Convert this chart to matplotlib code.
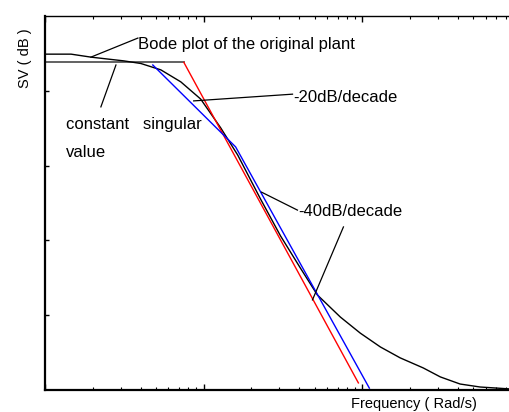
import numpy as np
import matplotlib
matplotlib.use("Agg")
import matplotlib.pyplot as plt
from matplotlib.ticker import LogLocator, NullFormatter, FixedLocator

plt.rcParams['font.family'] = ['Liberation Sans', 'DejaVu Sans']

# --- data (frequency in rad/s, singular value in dB) ---
bode_freq = [0.1, 0.146, 0.195, 0.314, 0.402, 0.537, 0.717, 0.957, 1.28, 1.64,
             2.28, 3.05, 4.07, 5.21, 7.27, 9.71, 13.0, 17.3, 24.2, 31.0, 41.3,
             55.2, 84.1]
bode_db = [-10.2, -10.2, -11.0, -12.0, -12.7, -14.4, -17.6, -22.2, -29.9, -37.2,
           -48.9, -58.8, -67.4, -74.6, -80.5, -84.8, -88.5, -91.4, -94.1, -96.5,
           -98.4, -99.2, -99.7]

const_freq = [0.1, 0.75]
const_db = [-12.4, -12.4]

red_freq = [0.75, 9.44]
red_db = [-12.4, -98.1]

blue_freq = [0.478, 1.59, 11.07]
blue_db = [-13.1, -35.0, -99.5]

x_limits = [0.1, 84.0]
y_limits = [-100, 0]
y_ticks = [-80, -60, -40, -20]

fig = plt.figure(figsize=(5.09, 4.12), dpi=100)
ax = fig.add_axes([45/509, 22/412, 464/509, 374/412])

ax.plot(const_freq, const_db, color='#555555', lw=1.3)
ax.plot(bode_freq, bode_db, color='black', lw=1.0)
ax.plot(red_freq, red_db, color='red', lw=1.0)
ax.plot(blue_freq, blue_db, color='blue', lw=1.0)

ax.set_xscale('log')
ax.set_xlim(*x_limits)
ax.set_ylim(*y_limits)
ax.yaxis.set_major_locator(FixedLocator(y_ticks))
ax.xaxis.set_major_locator(LogLocator(base=10))
ax.xaxis.set_minor_locator(LogLocator(base=10, subs=np.arange(2, 10)))
ax.xaxis.set_major_formatter(NullFormatter())
ax.xaxis.set_minor_formatter(NullFormatter())
ax.yaxis.set_major_formatter(NullFormatter())
ax.tick_params(axis='x', which='major', direction='in', length=4, width=1.0, top=True, bottom=True)
ax.tick_params(axis='x', which='minor', direction='in', length=2.2, width=0.8, top=True, bottom=True)
ax.tick_params(axis='y', which='major', direction='in', length=3, width=1.0, left=True, right=False)
ax.spines['right'].set_visible(False)
ax.spines['left'].set_linewidth(1.6)
ax.spines['bottom'].set_linewidth(1.6)
ax.spines['top'].set_linewidth(1.0)

fs = 12
# Bode annotation
ax.plot([0.385, 0.1947], [-5.9, -11.0], color='black', lw=0.9)
ax.text(0.385, -7.5, 'Bode plot of the original plant', fontsize=fs, ha='left', va='center')
# constant singular value
ax.plot([0.280, 0.225], [-13.1, -24.3], color='black', lw=0.9)
ax.text(0.1355, -28.9, 'constant   singular', fontsize=fs, ha='left', va='center')
ax.text(0.1355, -36.6, 'value', fontsize=fs, ha='left', va='center')
# -20 dB/decade
ax.plot([0.865, 3.63], [-22.7, -20.9], color='black', lw=0.9)
ax.text(3.68, -21.7, '-20dB/decade', fontsize=fs, ha='left', va='center')
# -40 dB/decade
ax.plot([2.316, 3.90], [-47.1, -51.9], color='black', lw=0.9)
ax.plot([7.60, 4.85], [-56.4, -75.9], color='black', lw=0.9)
ax.text(3.96, -52.4, '-40dB/decade', fontsize=fs, ha='left', va='center')

fig.text(25/509, 1 - 58/412, 'SV ( dB )', rotation=90, fontsize=10.5, ha='center', va='center')
fig.text(351/509, 1 - 408/412, 'Frequency ( Rad/s)', fontsize=10.5, ha='left', va='baseline')

fig.savefig('out.png', dpi=100)
